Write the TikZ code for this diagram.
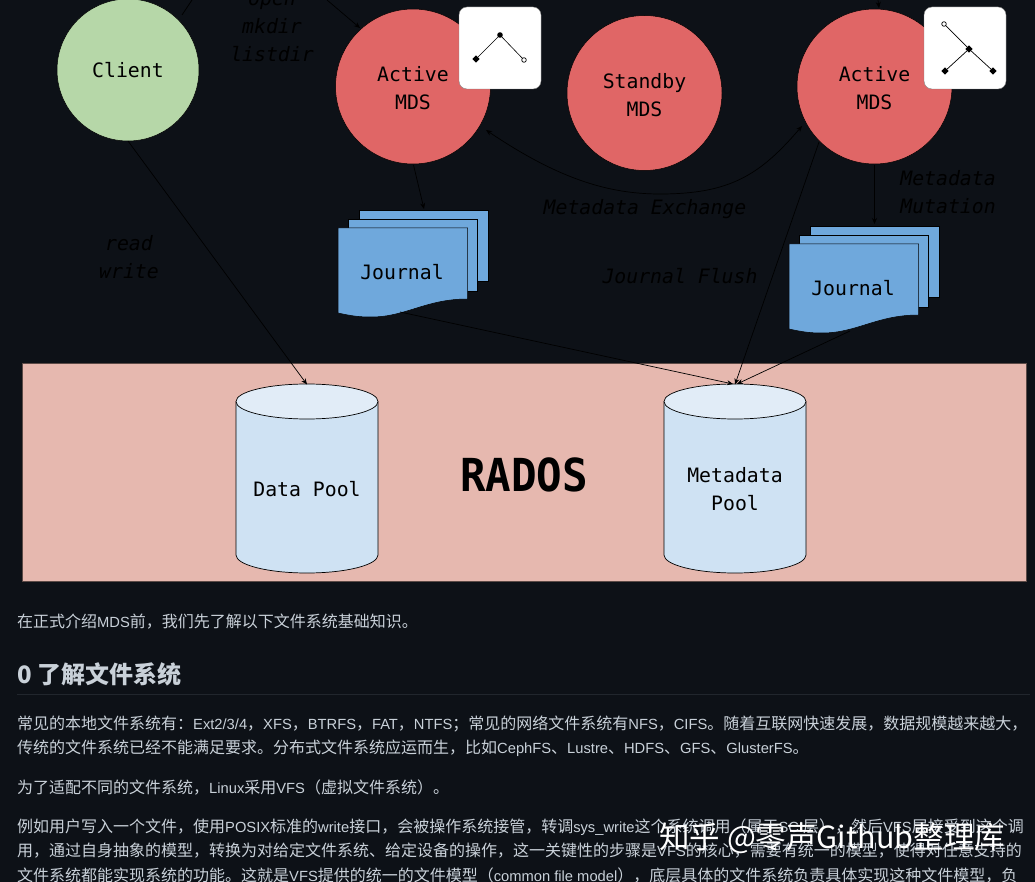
\documentclass[tikz,border=0pt]{standalone}
\usepackage{fontspec}
\setmainfont{Noto Sans CJK SC}
\newfontfamily\monof{DejaVu Sans Mono}
\newfontfamily\latf[Scale=0.92]{Liberation Sans}
\newcommand{\La}[1]{{\latf #1}}
\usetikzlibrary{arrows.meta}
\definecolor{pagebg}{HTML}{0D1117}
\definecolor{bodytext}{HTML}{C9D1D9}
\definecolor{mds}{HTML}{E06666}
\definecolor{clientc}{HTML}{B6D7A8}
\definecolor{journalc}{HTML}{6FA8DC}
\definecolor{radosc}{HTML}{E6B8AF}
\definecolor{cylc}{HTML}{CFE2F3}
\definecolor{cyltop}{HTML}{E1ECF7}
\definecolor{rulec}{HTML}{21262D}
\tikzset{
  x=1pt,y=-1pt,
  roundnode/.style={circle,fill=#1,draw=black,line width=.5pt,minimum size=155pt,inner sep=0},
  mono/.style={align=center,text=black,font=\monof\fontsize{19.8}{28}\selectfont},
  conn/.style={draw=black,line width=.7pt,-{Stealth[length=6pt,width=5pt]}},
  plainline/.style={draw=black,line width=.7pt},
  lbl/.style={align=center,text=black,font=\monof\itshape\fontsize{19.8}{28}\selectfont},
  tagbox/.style={fill=white,draw=black!50,line width=.4pt,rounded corners=8pt},
  doc/.style={fill=journalc,draw=black,line width=.5pt},
  body/.style={anchor=west,text=bodytext,inner sep=0,font=\fontsize{16}{18}\selectfont},
}
\newcommand{\jstack}[4]{%
 \path[doc] (#1,#2) -- ++(129,0) -- ++(0,71) -- ++(-129,0) -- cycle;
 \path[doc] (#1-10.5,#2+9) -- ++(129,0) -- ++(0,72) -- ++(-129,0) -- cycle;
 \path[doc] (#1-21,#2+18) -- ++(129.5,0) -- ++(0,71) .. controls +(-42,0) and +(35,0) .. ++(-96.5,18) .. controls +(-12,0) and +(14,3) .. ++(-33,-4) -- cycle;
 \node[mono] (#3) at (#1+43,#2+62) {#4};
}
\newcommand{\dmd}[1]{\fill (#1) ++(-3.6,0) -- ++(3.6,-3.6) -- ++(3.6,3.6) -- ++(-3.6,3.6) -- cycle;}
\begin{document}
\begin{tikzpicture}
\useasboundingbox (0,0) rectangle (1035,882);
\fill[pagebg] (0,0) rectangle (1035,882);

\node[roundnode=clientc,minimum size=142pt] (client) at (128,70) {};
\node[mono] (clientt) at (128,70) {Client};
\node[roundnode=mds] (a1) at (413,86.5) {};
\node[roundnode=mds] (s) at (644.5,93) {};
\node[roundnode=mds] (a2) at (874.5,86.5) {};
\node[mono] (a1t) at (413,88) {Active\\MDS};
\node[mono] (st) at (644.5,95) {Standby\\MDS};
\node[mono] (a2t) at (874.5,88) {Active\\MDS};

\jstack{359}{210}{j1}{Journal}
\jstack{810}{226}{j2}{Journal}

% RADOS
\node[fill=radosc,draw=black!60!radosc,line width=.4pt,minimum width=1004pt,minimum height=218pt,inner sep=0] (rados) at (524,472) {};
\node[font=\monof\bfseries\fontsize{42.5}{42}\selectfont,text=black] (radost) at (524,475) {\scalebox{1}[1.07]{RADOS}};

% cylinders
\foreach \n/\cx/\tx in {dp/307/Data Pool,mp/735/{Metadata\\Pool}}{
  \path[fill=cylc,draw=black,line width=.7pt] (\cx-71,402) -- (\cx-71,555) arc[x radius=71,y radius=18,start angle=180,end angle=0] -- (\cx+71,402) -- cycle;
  \path[fill=cyltop,draw=black,line width=.7pt] (\cx,401.5) ellipse[x radius=71,y radius=17.5];
  \coordinate (\n top) at (\cx,384.5);
  \node[mono] (\n) at (\cx,489) {\tx};
}

% tags
\path[tagbox] (459,7) rectangle (541,89);
\path[tagbox] (924,7) rectangle (1006,89);
\coordinate (t1) at (500,35); \coordinate (t1l) at (476,59); \coordinate (t1r) at (524,60);
\draw[black,line width=.6pt] (t1l) -- (t1) -- (t1r);
\fill (t1) circle (2.8);
\dmd{t1l}
\filldraw[fill=white,draw=black,line width=.7pt] (t1r) circle (2.3);
\coordinate (t2) at (969,49); \coordinate (t2o) at (944,24); \coordinate (t2l) at (945,71); \coordinate (t2r) at (993,71);
\draw[black,line width=.7pt] (t2o) -- (t2) -- (t2r) (t2) -- (t2l);
\dmd{t2}\dmd{t2l}\dmd{t2r}
\filldraw[fill=white,draw=black,line width=.7pt] (t2o) circle (2.3);

% off-page ends
\coordinate (c1) at (192,0); \coordinate (c2) at (327,0); \coordinate (c3) at (878,0);
\coordinate (c1e) at (182,15); \coordinate (c2e) at (360,28); \coordinate (c3e) at (879,8);
\draw[plainline] (c1) -- (c1e);
\draw[conn] (c2) -- (c2e);
\draw[conn] (c3) -- (c3e);

% connectors
\draw[conn] (128,141) -- (dptop);
\draw[conn] (413.5,165) -- (424,209);
\draw[conn] (874.5,165) -- (874.5,224);
\draw[conn] (819,142) -- (mptop);
\draw[conn] (400,312) -- (733,384);
\draw[conn] (850,331) -- (737,384);
\draw[draw=black,line width=.7pt,{Stealth[length=6pt,width=5pt]}-{Stealth[length=6pt,width=5pt]}] (486,130) .. controls (560,180) and (610,194) .. (660,194) .. controls (730,194) and (760,175) .. (802,126);

% italic labels
\node[lbl] (l1) at (272,28.5) {open\\mkdir\\listdir};
\node[lbl] (l2) at (129,257) {read\\write};
\node[lbl] (l3) at (645,209.5) {Metadata Exchange};
\node[lbl] (l4) at (680,276) {Journal Flush};
\node[lbl] (l5) at (948,192) {Metadata\\Mutation};

% body text
\node[body] (b1) at (17,622) {在正式介绍\La{MDS}前，我们先了解以下文件系统基础知识。};
\node[body,font=\bfseries\fontsize{24}{28}\selectfont] (h) at (17,674) {0 了解文件系统};
\draw[rulec,line width=.8pt] (17,694) -- (1030,694);
\node[body] (b2) at (17,724) {常见的本地文件系统有：\La{Ext2/3/4}，\La{XFS}，\La{BTRFS}，\La{FAT}，\La{NTFS}；常见的网络文件系统有\La{NFS}，\La{CIFS}。随着互联网快速发展，数据规模越来越大，};
\node[body] (b3) at (17,748) {传统的文件系统已经不能满足要求。分布式文件系统应运而生，比如\La{CephFS}、\La{Lustre}、\La{HDFS}、\La{GFS}、\La{GlusterFS}。};
\node[body] (b4) at (17,788) {为了适配不同的文件系统，\La{Linux}采用\La{VFS}（虚拟文件系统）。};
\node[body] (b5) at (17,827) {例如用户写入一个文件，使用\La{POSIX}标准的\La{write}接口，会被操作系统接管，转调\La{sys\_write}这个系统调用（属于\La{SCI}层），然后\La{VFS}层接受到这个调};
\node[body] (b6) at (17,851) {用，通过自身抽象的模型，转换为对给定文件系统、给定设备的操作，这一关键性的步骤是\La{VFS}的核心，需要有统一的模型，使得对任意支持的};
\node[body] (b7) at (17,875) {文件系统都能实现系统的功能。这就是\La{VFS}提供的统一的文件模型（\La{common file model}），底层具体的文件系统负责具体实现这种文件模型，负};
\node[anchor=west,inner sep=0,text=white,font=\fontsize{30.5}{34}\selectfont] (wm) at (659,838) {知乎 @零声Github整理库};
\end{tikzpicture}
\end{document}
